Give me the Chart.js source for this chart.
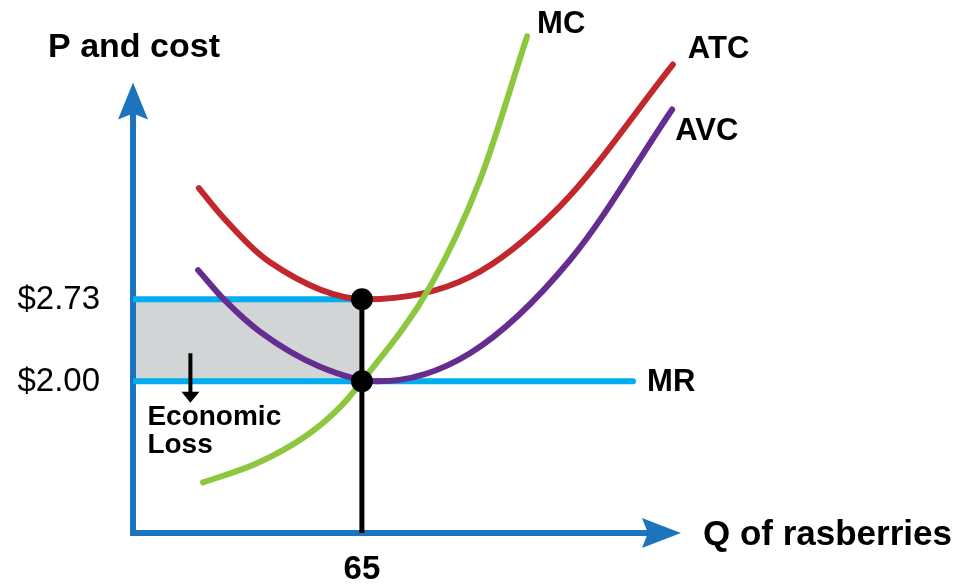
<!DOCTYPE html>
<html>
<head>
<meta charset="utf-8">
<script src="https://cdn.jsdelivr.net/npm/chart.js@4.4.1/dist/chart.umd.min.js"></script>
<style>
  html, body { margin: 0; padding: 0; background: #fff; }
  #wrap { width: 953px; height: 585px; position: relative; }
</style>
</head>
<body>
<div id="wrap"><canvas id="costChart"></canvas></div>
<script>
// quantity (Q) and price/cost (P)
const mcQ  = [19.9, 35.2, 49.4, 58.8, 65.0, 84.3, 98.5, 111.9];
const mcP  = [1.10, 1.27, 1.52, 1.77, 2.00, 2.84, 3.79, 5.07];

const atcQ = [18.7, 25.3, 38.9, 66.0, 95.7, 121.3, 153.3];
const atcP = [3.72, 3.47, 3.06, 2.73, 2.93, 3.56, 4.82];

const avcQ = [18.5, 26.1, 36.1, 53.1, 69.6, 95.7, 124.1, 153.1];
const avcP = [2.99, 2.72, 2.44, 2.13, 2.00, 2.25, 3.08, 4.42];

const price = 2.00;       // MR
const atcAtQ = 2.73;      // ATC at chosen output
const outputQ = 65;
const mrEndQ = 142;

const axisMinQ = 0, axisMaxQ = 155.6;
const axisMinP = 0.65, axisMaxP = 4.66;

const priceTicks = [2.73, 2.00];
const priceTickLabels = ['$2.73', '$2.00'];

const lossArrowQ = 16.3;
const lossArrowP = [2.25, 1.81];

const toPts = (xs, ys) => xs.map((x, i) => ({ x: x, y: ys[i] }));

const FONT = '"Liberation Sans", Arial, sans-serif';
const BLUE = '#1C75BC', CYAN = '#00AEEF', GREEN = '#8DC63F', RED = '#C1272D', PURPLE = '#662D91';

const econPlugin = {
    id: 'econ',
    beforeDatasetsDraw(chart) {
        const ctx = chart.ctx, xs = chart.scales.x, ys = chart.scales.y;
        const x0 = xs.getPixelForValue(axisMinQ), y0 = ys.getPixelForValue(axisMinP);
        const yTop = ys.getPixelForValue(axisMaxP), xEnd = xs.getPixelForValue(axisMaxQ);
        ctx.save();
        ctx.strokeStyle = BLUE; ctx.fillStyle = BLUE;
        ctx.lineWidth = 6; ctx.lineJoin = 'miter'; ctx.lineCap = 'butt';
        ctx.beginPath();
        ctx.moveTo(x0, yTop + 30);
        ctx.lineTo(x0, y0);
        ctx.lineTo(xEnd - 32, y0);
        ctx.stroke();
        // arrow heads
        ctx.beginPath();
        ctx.moveTo(x0, yTop); ctx.lineTo(x0 + 15, yTop + 37); ctx.lineTo(x0, yTop + 31); ctx.lineTo(x0 - 15, yTop + 37);
        ctx.closePath(); ctx.fill();
        ctx.beginPath();
        ctx.moveTo(xEnd, y0); ctx.lineTo(xEnd - 39, y0 - 15); ctx.lineTo(xEnd - 33, y0); ctx.lineTo(xEnd - 39, y0 + 15);
        ctx.closePath(); ctx.fill();
        ctx.restore();
    },
    afterDatasetsDraw(chart) {
        const ctx = chart.ctx, xs = chart.scales.x, ys = chart.scales.y;
        const px = q => xs.getPixelForValue(q), py = p => ys.getPixelForValue(p);
        const x0 = px(axisMinQ), y0 = py(axisMinP);
        ctx.save();
        ctx.fillStyle = '#000';
        ctx.textBaseline = 'middle';

        // curve labels at curve ends
        ctx.font = 'bold 31px ' + FONT;
        ctx.textAlign = 'left';
        ctx.fillText('MC', px(mcQ[mcQ.length - 1]) + 10, py(mcP[mcP.length - 1]) - 12);
        ctx.fillText('ATC', px(atcQ[atcQ.length - 1]) + 15, py(atcP[atcP.length - 1]) - 15);
        ctx.fillText('AVC', px(avcQ[avcQ.length - 1]) + 3, py(avcP[avcP.length - 1]) + 22);
        ctx.fillText('MR', px(mrEndQ) + 14, py(price) + 1);

        // axis titles
        ctx.font = 'bold 35px ' + FONT;
        ctx.fillText('Q of rasberries', px(axisMaxQ) + 22, y0 + 2);
        ctx.font = 'bold 34px ' + FONT;
        ctx.textAlign = 'center';
        ctx.fillText('P and cost', x0 + 1, py(axisMaxP) - 35);
        ctx.font = 'bold 33px ' + FONT;
        ctx.fillText(String(outputQ), px(outputQ), y0 + 37);

        // price ticks
        ctx.font = '33px ' + FONT;
        ctx.textAlign = 'right';
        priceTicks.forEach((p, i) => ctx.fillText(priceTickLabels[i], x0 - 33, py(p) + 1));

        // economic loss arrow + text
        const ax = px(lossArrowQ), ay1 = py(lossArrowP[0]), ay2 = py(lossArrowP[1]);
        ctx.strokeStyle = '#000'; ctx.lineWidth = 4;
        ctx.beginPath(); ctx.moveTo(ax, ay1); ctx.lineTo(ax, ay2 - 8); ctx.stroke();
        ctx.beginPath(); ctx.moveTo(ax - 9, ay2 - 11); ctx.lineTo(ax + 9, ay2 - 11); ctx.lineTo(ax, ay2); ctx.closePath(); ctx.fill();
        ctx.font = 'bold 28px ' + FONT;
        ctx.textAlign = 'left';
        ctx.fillText('Economic', ax - 43, ay2 + 15);
        ctx.fillText('Loss', ax - 43, ay2 + 43);
        ctx.restore();
    }
};

const curveStyle = { borderWidth: 6, pointRadius: 0, cubicInterpolationMode: 'monotone', borderCapStyle: 'round' };

const ctx = document.getElementById('costChart').getContext('2d');
new Chart(ctx, {
    type: 'line',
    data: {
        datasets: [{
            // black dots
            data: [{ x: outputQ, y: atcAtQ }, { x: outputQ, y: price }],
            showLine: false,
            pointRadius: 11,
            pointBackgroundColor: '#000',
            pointBorderWidth: 0,
            order: 0
        }, {
            // vertical at output
            data: [{ x: outputQ, y: axisMinP }, { x: outputQ, y: atcAtQ }],
            borderColor: '#000', borderWidth: 5, pointRadius: 0,
            order: 1
        }, {
            label: 'MC',
            data: toPts(mcQ, mcP),
            borderColor: GREEN, ...curveStyle,
            order: 2
        }, {
            label: 'AVC',
            data: toPts(avcQ, avcP),
            borderColor: PURPLE, ...curveStyle,
            order: 3
        }, {
            label: 'ATC',
            data: toPts(atcQ, atcP),
            borderColor: RED, ...curveStyle,
            order: 4
        }, {
            label: 'MR',
            data: [{ x: axisMinQ, y: price }, { x: mrEndQ, y: price }],
            borderColor: CYAN, borderWidth: 6, pointRadius: 0, borderCapStyle: 'round',
            order: 5
        }, {
            // ATC level, with loss area down to price
            data: [{ x: axisMinQ, y: atcAtQ }, { x: outputQ, y: atcAtQ }],
            borderColor: CYAN, borderWidth: 6, pointRadius: 0, borderCapStyle: 'round',
            backgroundColor: '#D1D5D5',
            fill: { value: price },
            order: 6
        }]
    },
    options: {
        responsive: true,
        maintainAspectRatio: false,
        animation: false,
        layout: { autoPadding: false, padding: { left: 133, right: 3, top: 5, bottom: 52 } },
        scales: {
            x: { type: 'linear', min: 0, max: 232, display: false },
            y: { type: 'linear', min: 0.65, max: 5.35, display: false }
        },
        plugins: {
            legend: { display: false },
            tooltip: { enabled: false },
            filler: { drawTime: 'beforeDatasetsDraw' }
        }
    },
    plugins: [econPlugin]
});
</script>
</body>
</html>
